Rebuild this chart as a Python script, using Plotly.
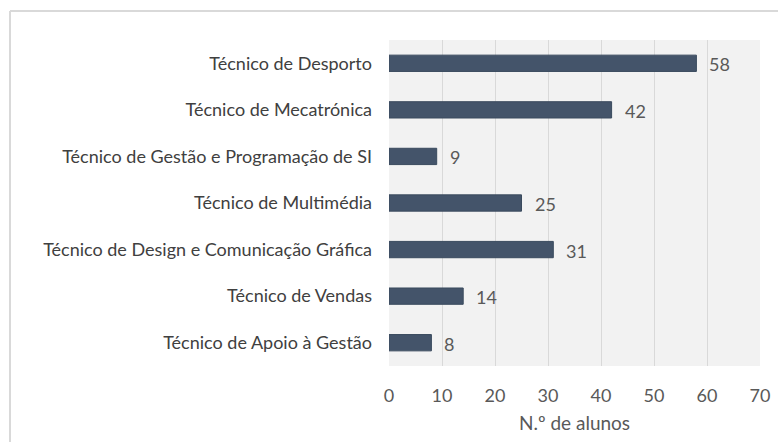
import plotly.graph_objects as go

categories = [
    "Técnico de Desporto",
    "Técnico de Mecatrónica",
    "Técnico de Gestão e Programação de SI",
    "Técnico de Multimédia",
    "Técnico de Design e Comunicação Gráfica",
    "Técnico de Vendas",
    "Técnico de Apoio à Gestão",
]
alunos = [58, 42, 9, 25, 31, 14, 8]
x_ticks = [0, 10, 20, 30, 40, 50, 60, 70]
x_title = "N.º de alunos"

W, H = 778, 442
L, R, T, B = 389, 18, 40, 76
pw, ph = W - L - R, H - T - B

FONT = "Lato"
GRAY = "#595959"

fig = go.Figure()
fig.add_trace(go.Bar(
    y=categories, x=alunos, orientation="h",
    marker=dict(color="#44546a", line=dict(color="#3a4a5e", width=1)),
    hoverinfo="skip",
))

for c, v in zip(categories, alunos):
    fig.add_annotation(x=v, y=c, text=str(v), showarrow=False,
                       xanchor="left", xshift=11, yshift=-1,
                       font=dict(family=FONT, size=18, color=GRAY))

def px_x(p):
    return (p - L) / pw

def px_y(p):
    return (H - B - p) / ph

border = "#d9d9d9"
fig.add_shape(type="line", xref="paper", yref="paper",
              x0=px_x(10), x1=px_x(10), y0=px_y(11), y1=px_y(460),
              line=dict(color=border, width=2), layer="below")
fig.add_shape(type="line", xref="paper", yref="paper",
              x0=px_x(10), x1=px_x(800), y0=px_y(11), y1=px_y(11),
              line=dict(color=border, width=2), layer="below")

fig.update_layout(
    width=W, height=H,
    margin=dict(l=L, r=R, t=T, b=B, autoexpand=False),
    paper_bgcolor="white",
    plot_bgcolor="#f2f2f2",
    showlegend=False,
    bargap=0.65,
    font=dict(family=FONT, color=GRAY),
    xaxis=dict(
        range=[0, 70], tickvals=x_ticks, ticktext=[str(t) for t in x_ticks],
        showgrid=True, gridcolor="#d9d9d9", gridwidth=1.3,
        zeroline=False, showline=False,
        tickfont=dict(family=FONT, size=18, color=GRAY),
        ticklabelstandoff=17,
        title=dict(text=x_title, font=dict(family=FONT, size=19, color=GRAY), standoff=11),
        fixedrange=True,
    ),
    yaxis=dict(
        autorange="reversed",
        showgrid=False, zeroline=False, showline=False,
        tickfont=dict(family=FONT, size=18, color="#404040"),
        ticklabelstandoff=16,
        fixedrange=True,
    ),
)

fig.write_html("out.html", config={"displayModeBar": False},
               post_script="document.body.style.margin='0';document.body.style.overflow='hidden';")
